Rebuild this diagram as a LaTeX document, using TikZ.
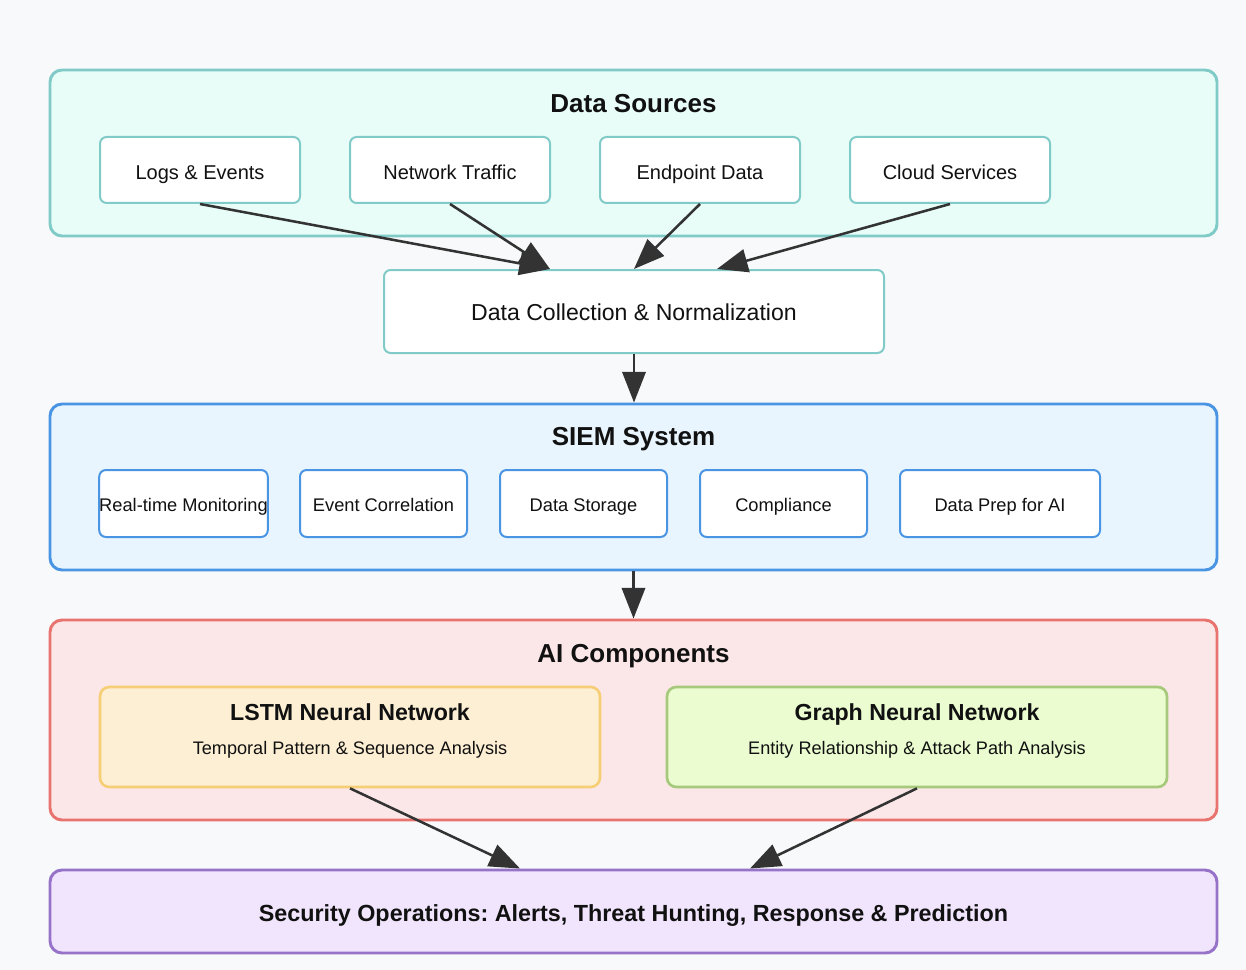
\documentclass[tikz,border=0pt]{standalone}
\usepackage{fontspec}
\setmainfont{Liberation Sans}
\usetikzlibrary{calc,arrows.meta}
\definecolor{bgc}{HTML}{F8F9FA}
\definecolor{dsfill}{HTML}{E8FDF7}
\definecolor{dsline}{HTML}{80CBC8}
\definecolor{siemfill}{HTML}{E8F5FE}
\definecolor{siemline}{HTML}{4A94E4}
\definecolor{aifill}{HTML}{FBE7E7}
\definecolor{ailine}{HTML}{E8736F}
\definecolor{lstmfill}{HTML}{FDEFD4}
\definecolor{lstmline}{HTML}{F6CE75}
\definecolor{gnnfill}{HTML}{EAFCD0}
\definecolor{gnnline}{HTML}{A6C97B}
\definecolor{opsfill}{HTML}{F0E5FC}
\definecolor{opsline}{HTML}{9673C9}
\definecolor{arrowc}{HTML}{333333}
\definecolor{txt}{HTML}{111111}
\frenchspacing
\tikzset{
  cont/.style={draw, line width=2.2pt, rounded corners=9pt, inner sep=0pt, minimum width=875.25pt},
  small/.style={draw, line width=1.5pt, rounded corners=5pt, inner sep=0pt, fill=white, text=txt, text depth=0pt},
  ttl/.style={font=\fontsize{19.5}{23}\selectfont\bfseries, text=txt, inner sep=0pt, anchor=base},
  sub/.style={text=txt, inner sep=0pt, anchor=base},
  conn/.style={draw=arrowc, line width=1.9pt, -{Triangle[length=23pt,width=17.5pt]}},
}
\begin{document}
\begin{tikzpicture}[x=0.75pt,y=-0.75pt]
\fill[bgc] (0,0) rectangle (1246,970);
\useasboundingbox (0,0) rectangle (1246,970);
% Data sources
\node[cont, draw=dsline, fill=dsfill, minimum height=124.5pt] (ds) at (633.5,153) {};
\node[ttl] (dst) at (633.5,112.5) {Data Sources};
\foreach \n/\x/\t in {logs/200/Logs \& Events, net/450/Network Traffic, endp/700/Endpoint Data, cloud/950/Cloud Services}
  \node[small, draw=dsline, minimum width=150pt, minimum height=49.5pt, text height=13.8pt, font=\fontsize{15}{18}\selectfont] (\n) at (\x,170) {\t};
\node[small, draw=dsline, minimum width=375pt, minimum height=62.25pt, text height=13.1pt, font=\fontsize{17.3}{20}\selectfont] (coll) at (634,311.5) {Data Collection \& Normalization};
% SIEM
\node[cont, draw=siemline, fill=siemfill, minimum height=124.5pt] (siem) at (633.5,487) {};
\node[ttl] (siemt) at (633.5,445.5) {SIEM System};
\foreach \n/\x/\w/\t in {rtm/183.5/125.25/Real-time Monitoring, evc/383.5/125.25/Event Correlation, dst2/583.5/125.25/Data Storage, comp/783.5/125.25/Compliance, prep/1000/150/Data Prep for AI}
  \node[small, draw=siemline, minimum width=\w pt, minimum height=50.25pt, text height=11.9pt, font=\fontsize{13.7}{16}\selectfont] (\n) at (\x,503.5) {\t};
% AI components
\node[cont, draw=ailine, fill=aifill, minimum height=150pt] (ai) at (633.5,720) {};
\node[ttl] (ait) at (633.5,662.5) {AI Components};
\node[draw=lstmline, fill=lstmfill, line width=2pt, rounded corners=7pt, minimum width=375pt, minimum height=75pt] (lstm) at (350,737) {};
\node[sub, font=\fontsize{17.4}{20}\selectfont\bfseries] (lstmt) at (350,720.5) {LSTM Neural Network};
\node[sub, font=\fontsize{13.6}{16}\selectfont] (lstms) at (350,754.5) {Temporal Pattern \& Sequence Analysis};
\node[draw=gnnline, fill=gnnfill, line width=2pt, rounded corners=7pt, minimum width=375pt, minimum height=75pt] (gnn) at (917,737) {};
\node[sub, font=\fontsize{17.4}{20}\selectfont\bfseries] (gnnt) at (917,720.5) {Graph Neural Network};
\node[sub, font=\fontsize{13.6}{16}\selectfont] (gnns) at (917,754.5) {Entity Relationship \& Attack Path Analysis};
% Security operations
\node[cont, draw=opsline, fill=opsfill, minimum height=62.25pt] (ops) at (633.5,911.5) {};
\node[sub, font=\fontsize{17.5}{20}\selectfont\bfseries] (opst) at (633.5,921.3) {Security Operations: Alerts, Threat Hunting, Response \& Prediction};
% connectors
\coordinate (c1) at ($(coll.north)+(-84,0)$);
\coordinate (c3) at (coll.north);
\coordinate (c4) at ($(coll.north)+(83,0)$);
\draw[conn] (logs.south) -- (c1);
\draw[conn] (net.south) -- (c1);
\draw[conn] (endp.south) -- (c3);
\draw[conn] (cloud.south) -- (c4);
\draw[conn] (coll.south) -- (coll.south |- siem.north);
\draw[conn] (siem.south) -- (ai.north);
\coordinate (o1) at ($(ops.north)+(-113.5,0)$);
\coordinate (o2) at ($(ops.north)+(116.5,0)$);
\draw[conn] (lstm.south) -- (o1);
\draw[conn] (gnn.south) -- (o2);
\end{tikzpicture}
\end{document}
